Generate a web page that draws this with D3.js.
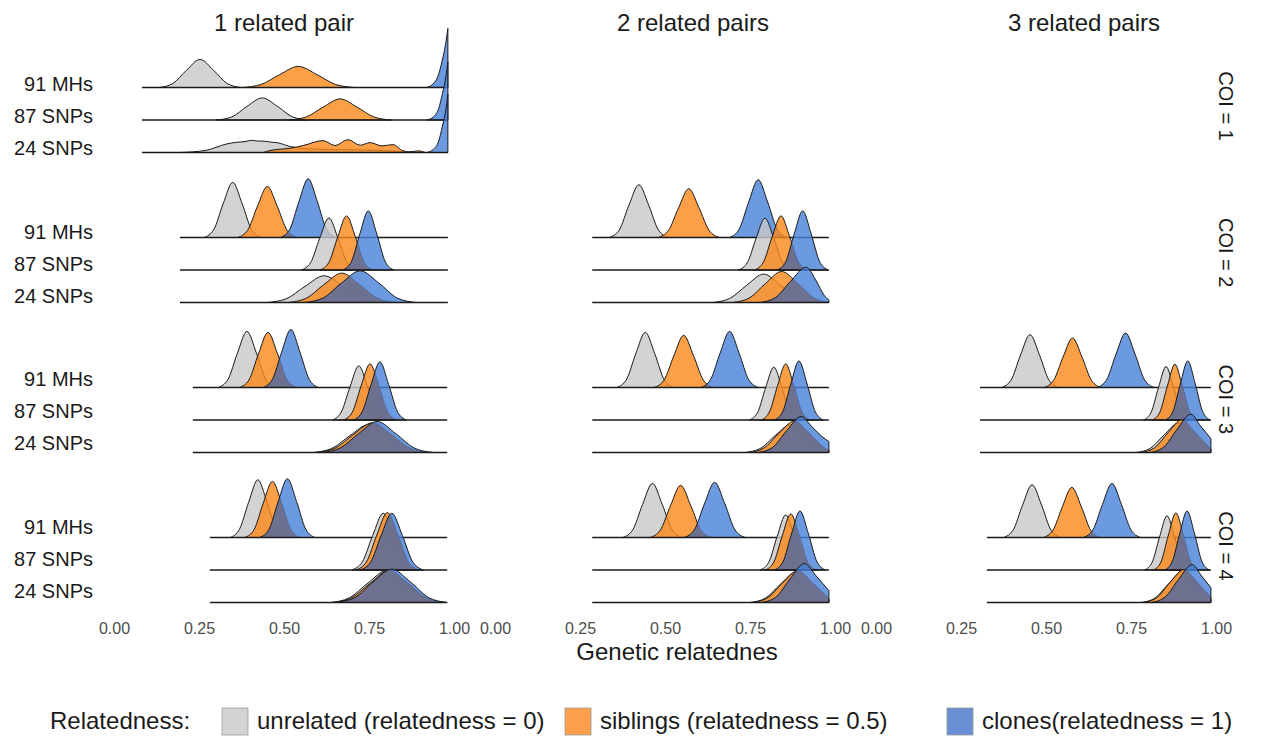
<!DOCTYPE html>
<html>
<head>
<meta charset="utf-8">
<script src="https://cdn.jsdelivr.net/npm/d3@7"></script>
<style>
  body { margin: 0; background: #fff; }
  svg { display: block; font-family: "Liberation Sans", Arial, Helvetica, sans-serif; }
</style>
</head>
<body>
<div id="chart"></div>
<script>
// facet levels and labels
const pairLevels = ["1 related pair", "2 related pairs", "3 related pairs"];
const coiLevels = ["COI = 1", "COI = 2", "COI = 3", "COI = 4"];
const markerLevels = ["91 MHs", "87 SNPs", "24 SNPs"];
const groupLevels = ["unrelated (relatedness = 0)", "siblings (relatedness = 0.5)", "clones(relatedness = 1)"];
const xTicks = [0, 0.25, 0.5, 0.75, 1];

// ridge outlines: [relatedness, height in ridge units]
// each panel = rows (91 MHs, 87 SNPs, 24 SNPs) x groups (unrelated, siblings, clones)
const coi1Pair1Range = [0.082, 0.982];
const coi1Pair1 = [
  [
    [[.133,0],[.173,.12],[.213,.52],[.253,.85],[.293,.52],[.333,.12],[.373,0]],
    [[.377,0],[.432,.09],[.487,.39],[.542,.64],[.597,.39],[.652,.09],[.707,0]],
    [[.918,0],[.938,.1],[.953,.35],[.965,.8],[.975,1.3],[.982,1.79]]
  ],
  [
    [[.301,0],[.346,.09],[.391,.41],[.436,.67],[.481,.41],[.526,.09],[.571,0]],
    [[.515,0],[.565,.09],[.615,.39],[.665,.64],[.715,.39],[.765,.09],[.815,0]],
    [[.92,0],[.94,.1],[.955,.35],[.966,.8],[.976,1.3],[.982,1.76]]
  ],
  [
    [[.194,0],[.268,.06],[.332,.26],[.36,.31],[.385,.33],[.405,.37],[.42,.35],[.444,.34],[.465,.31],[.479,.3],[.518,.18],[.562,.12],[.635,.09],[.724,.08],[.812,.05],[.87,0]],
    [[.44,0],[.459,.06],[.518,.13],[.556,.21],[.615,.36],[.65,.21],[.688,.39],[.724,.22],[.753,.3],[.788,.2],[.82,.24],[.85,.05],[.87,.02],[.895,.05],[.915,0]],
    [[.92,0],[.94,.1],[.955,.35],[.966,.8],[.976,1.3],[.982,1.76]]
  ]
];

const coi2Pair1Range = [0.194, 0.982];
const coi2Pair1 = [
  [
    [[.265,0],[.293,.23],[.321,1.02],[.349,1.67],[.377,1.02],[.405,.23],[.433,0]],
    [[.364,0],[.393,.22],[.422,.95],[.451,1.55],[.48,.95],[.509,.22],[.538,0]],
    [[.49,0],[.517,.25],[.544,1.09],[.571,1.78],[.598,1.09],[.625,.25],[.652,0]]
  ],
  [
    [[.551,0],[.578,.22],[.605,.96],[.632,1.58],[.659,.96],[.686,.22],[.713,0]],
    [[.606,0],[.632,.23],[.658,1.0],[.684,1.64],[.71,1.0],[.736,.23],[.762,0]],
    [[.673,0],[.698,.25],[.723,1.09],[.748,1.79],[.773,1.09],[.798,.25],[.823,0]]
  ],
  [
    [[.45,0],[.506,.11],[.562,.49],[.618,.81],[.674,.49],[.73,.11],[.786,0]],
    [[.511,0],[.564,.12],[.617,.54],[.67,.89],[.723,.54],[.776,.12],[.829,0]],
    [[.559,0],[.614,.13],[.669,.59],[.724,.96],[.779,.59],[.834,.13],[.889,0]]
  ]
];

const coi2Pair2Range = [0.286, 0.982];
const coi2Pair2 = [
  [
    [[.336,0],[.365,.22],[.394,.98],[.423,1.6],[.452,.98],[.481,.22],[.51,0]],
    [[.48,0],[.51,.21],[.54,.9],[.57,1.48],[.6,.9],[.63,.21],[.66,0]],
    [[.69,0],[.718,.25],[.746,1.07],[.774,1.75],[.802,1.07],[.83,.25],[.858,0]]
  ],
  [
    [[.716,0],[.742,.22],[.768,.96],[.794,1.57],[.82,.96],[.846,.22],[.872,0]],
    [[.763,0],[.789,.23],[.815,1.0],[.841,1.64],[.867,1.0],[.893,.23],[.919,0]],
    [[.83,0],[.855,.25],[.88,1.09],[.905,1.79],[.93,1.09],[.955,.25],[.98,0]]
  ],
  [
    [[.64,0],[.69,.12],[.74,.52],[.79,.86],[.84,.52],[.89,.12],[.94,0]],
    [[.699,0],[.747,.13],[.795,.57],[.843,.94],[.891,.57],[.939,.13],[.982,.01]],
    [[.78,0],[.825,.15],[.87,.65],[.915,1.07],[.945,.65],[.968,.22],[.982,.08]]
  ]
];

const coi3Pair1Range = [0.232, 0.98];
const coi3Pair1 = [
  [
    [[.307,0],[.335,.24],[.363,1.04],[.391,1.7],[.419,1.04],[.447,.24],[.475,0]],
    [[.369,0],[.397,.23],[.425,1.02],[.453,1.67],[.481,1.02],[.509,.23],[.537,0]],
    [[.439,0],[.466,.25],[.493,1.07],[.52,1.76],[.547,1.07],[.574,.25],[.601,0]]
  ],
  [
    [[.642,0],[.668,.23],[.694,1.0],[.72,1.64],[.746,1.0],[.772,.23],[.798,0]],
    [[.675,0],[.701,.24],[.727,1.04],[.753,1.7],[.779,1.04],[.805,.24],[.831,0]],
    [[.704,0],[.73,.25],[.756,1.07],[.782,1.76],[.808,1.07],[.834,.25],[.86,0]]
  ],
  [
    [[.585,0],[.64,.12],[.695,.52],[.75,.85],[.805,.52],[.86,.12],[.915,0]],
    [[.595,0],[.65,.13],[.705,.55],[.76,.9],[.815,.55],[.87,.13],[.925,0]],
    [[.609,0],[.664,.13],[.719,.57],[.774,.94],[.829,.57],[.884,.13],[.939,0]]
  ]
];

const coi3Pair2Range = [0.286, 0.982];
const coi3Pair2 = [
  [
    [[.358,0],[.386,.23],[.414,1.02],[.442,1.67],[.47,1.02],[.498,.23],[.526,0]],
    [[.468,0],[.497,.22],[.526,.96],[.555,1.58],[.584,.96],[.613,.22],[.642,0]],
    [[.606,0],[.634,.24],[.662,1.04],[.69,1.7],[.718,1.04],[.746,.24],[.774,0]]
  ],
  [
    [[.748,0],[.772,.22],[.796,.98],[.82,1.6],[.844,.98],[.868,.22],[.892,0]],
    [[.783,0],[.807,.24],[.831,1.04],[.855,1.7],[.879,1.04],[.903,.24],[.927,0]],
    [[.822,0],[.846,.25],[.87,1.09],[.894,1.79],[.918,1.09],[.942,.25],[.966,0]]
  ],
  [
    [[.735,0],[.78,.12],[.825,.52],[.87,.85],[.915,.52],[.96,.12],[.982,.03]],
    [[.745,0],[.79,.13],[.835,.58],[.88,.95],[.925,.58],[.97,.13],[.982,.07]],
    [[.774,0],[.816,.15],[.858,.66],[.9,1.09],[.935,.75],[.96,.5],[.982,.33]]
  ]
];

const coi3Pair3Range = [0.306, 0.985];
const coi3Pair3 = [
  [
    [[.369,0],[.397,.22],[.425,.98],[.453,1.6],[.481,.98],[.509,.22],[.537,0]],
    [[.494,0],[.522,.21],[.55,.92],[.578,1.5],[.606,.92],[.634,.21],[.662,0]],
    [[.65,0],[.678,.23],[.706,1.01],[.734,1.65],[.762,1.01],[.79,.23],[.818,0]]
  ],
  [
    [[.787,0],[.809,.23],[.831,.99],[.853,1.62],[.875,.99],[.897,.23],[.919,0]],
    [[.813,0],[.835,.24],[.857,1.03],[.879,1.69],[.901,1.03],[.923,.24],[.945,0]],
    [[.851,0],[.873,.25],[.895,1.09],[.917,1.79],[.939,1.09],[.961,.25],[.983,0]]
  ],
  [
    [[.764,0],[.806,.12],[.848,.54],[.89,.89],[.932,.54],[.974,.12],[.985,.07]],
    [[.779,0],[.819,.14],[.859,.6],[.899,.99],[.939,.6],[.985,.1]],
    [[.806,0],[.846,.16],[.886,.71],[.926,1.16],[.955,.8],[.985,.42]]
  ]
];

const coi4Pair1Range = [0.282, 0.98];
const coi4Pair1 = [
  [
    [[.342,0],[.369,.25],[.396,1.07],[.423,1.75],[.45,1.07],[.477,.25],[.504,0]],
    [[.385,0],[.412,.24],[.439,1.04],[.466,1.7],[.493,1.04],[.52,.24],[.547,0]],
    [[.429,0],[.456,.25],[.483,1.09],[.51,1.78],[.537,1.09],[.564,.25],[.591,0]]
  ],
  [
    [[.699,0],[.73,.24],[.761,1.05],[.792,1.72],[.823,1.05],[.854,.24],[.885,0]],
    [[.711,0],[.742,.24],[.773,1.06],[.804,1.74],[.835,1.06],[.866,.24],[.897,0]],
    [[.724,0],[.755,.24],[.786,1.05],[.817,1.72],[.848,1.05],[.879,.24],[.91,0]]
  ],
  [
    [[.637,0],[.692,.14],[.747,.59],[.802,.97],[.857,.59],[.912,.14],[.967,0]],
    [[.644,0],[.699,.14],[.754,.59],[.809,.97],[.864,.59],[.919,.14],[.974,0]],
    [[.652,0],[.707,.14],[.762,.62],[.817,1.01],[.872,.62],[.927,.14],[.98,0]]
  ]
];

const coi4Pair2Range = [0.286, 0.982];
const coi4Pair2 = [
  [
    [[.376,0],[.405,.23],[.434,1.0],[.463,1.64],[.492,1.0],[.521,.23],[.55,0]],
    [[.456,0],[.486,.22],[.516,.96],[.546,1.58],[.576,.96],[.606,.22],[.636,0]],
    [[.556,0],[.586,.23],[.616,1.02],[.646,1.67],[.676,1.02],[.706,.23],[.736,0]]
  ],
  [
    [[.78,0],[.805,.23],[.83,1.02],[.855,1.67],[.88,1.02],[.905,.23],[.93,0]],
    [[.795,0],[.82,.24],[.845,1.04],[.87,1.7],[.895,1.04],[.92,.24],[.945,0]],
    [[.822,0],[.847,.25],[.872,1.09],[.897,1.79],[.922,1.09],[.947,.25],[.972,0]]
  ],
  [
    [[.75,0],[.795,.13],[.84,.56],[.885,.92],[.93,.56],[.975,.13],[.982,.09]],
    [[.755,0],[.8,.13],[.845,.58],[.89,.96],[.935,.58],[.982,.12]],
    [[.784,0],[.826,.16],[.868,.72],[.91,1.18],[.945,.8],[.982,.36]]
  ]
];

const coi4Pair3Range = [0.326, 0.985];
const coi4Pair3 = [
  [
    [[.375,0],[.403,.22],[.431,.98],[.459,1.6],[.487,.98],[.515,.22],[.543,0]],
    [[.492,0],[.52,.21],[.548,.93],[.576,1.52],[.604,.93],[.632,.21],[.66,0]],
    [[.61,0],[.638,.23],[.666,1.0],[.694,1.64],[.722,1.0],[.75,.23],[.778,0]]
  ],
  [
    [[.79,0],[.812,.23],[.834,1.0],[.856,1.64],[.878,1.0],[.9,.23],[.922,0]],
    [[.816,0],[.838,.24],[.86,1.06],[.882,1.73],[.904,1.06],[.926,.24],[.948,0]],
    [[.849,0],[.871,.25],[.893,1.09],[.915,1.79],[.937,1.09],[.959,.25],[.981,0]]
  ],
  [
    [[.78,0],[.82,.13],[.86,.56],[.9,.92],[.94,.56],[.985,.1]],
    [[.785,0],[.825,.14],[.865,.61],[.905,1.0],[.945,.61],[.985,.14]],
    [[.81,0],[.85,.16],[.89,.7],[.93,1.15],[.958,.8],[.985,.45]]
  ]
];

const panels = [
  { coi: coiLevels[0], pair: pairLevels[0], range: coi1Pair1Range, ridges: coi1Pair1 },
  { coi: coiLevels[1], pair: pairLevels[0], range: coi2Pair1Range, ridges: coi2Pair1 },
  { coi: coiLevels[1], pair: pairLevels[1], range: coi2Pair2Range, ridges: coi2Pair2 },
  { coi: coiLevels[2], pair: pairLevels[0], range: coi3Pair1Range, ridges: coi3Pair1 },
  { coi: coiLevels[2], pair: pairLevels[1], range: coi3Pair2Range, ridges: coi3Pair2 },
  { coi: coiLevels[2], pair: pairLevels[2], range: coi3Pair3Range, ridges: coi3Pair3 },
  { coi: coiLevels[3], pair: pairLevels[0], range: coi4Pair1Range, ridges: coi4Pair1 },
  { coi: coiLevels[3], pair: pairLevels[1], range: coi4Pair2Range, ridges: coi4Pair2 },
  { coi: coiLevels[3], pair: pairLevels[2], range: coi4Pair3Range, ridges: coi4Pair3 }
];

const width = 1266;
const height = 738;
const fillColors = ["#c8c8c8", "#fb881a", "#4681d8"];
const legendColors = ["#d3d3d3", "#fda04b", "#6a8fd4"];
const overlapColor = "#6f6c87";
const ink = "#1a1a1a";

const svg = d3.select("#chart")
  .append("svg")
  .attr("width", width)
  .attr("height", height);

const colX = d3.scalePoint().domain(pairLevels).range([114, 876]);
const facetY = d3.scalePoint().domain(coiLevels).range([30, 480]);
const ridgeY = d3.scalePoint().domain(markerLevels).range([57.5, 122.5]);
const xUnit = d3.scaleLinear().domain([0, 1]).range([0, 340]);
const heightScale = d3.scaleLinear().domain([0, 1]).range([0, 33]);

// label grids (the row labels, strips and titles sit a little off the panel grid in the original)
const labelY = d3.scalePoint().domain(coiLevels).range([84, 527]);
const labelRowY = d3.scalePoint().domain(markerLevels).range([0, 64]);
const stripY = d3.scalePoint().domain(coiLevels).range([106, 546]);
const titleX = d3.scaleOrdinal().domain(pairLevels).range([284, 693, 1084]);

panels.forEach((p, pi) => {
  const g = svg.append('g')
    .attr('transform', `translate(${colX(p.pair)}, ${facetY(p.coi)})`);

  markerLevels.forEach((marker, mi) => {
    const base = ridgeY(marker);
    const area = d3.area()
      .x(d => xUnit(d[0]))
      .y0(base)
      .y1(d => base - heightScale(d[1]))
      .curve(d3.curveMonotoneX);

    const row = g.append('g');
    const curves = p.ridges[mi];
    const clipId = `sib-${pi}-${mi}`;

    row.append('clipPath')
      .attr('id', clipId)
      .append('path')
      .attr('d', area(curves[1]));

    curves.forEach((c, ci) => {
      row.append('path')
        .attr('d', area(c))
        .attr('fill', fillColors[ci])
        .attr('fill-opacity', 0.8);

      // clones over siblings turn slate in the original
      if (ci === 2) {
        row.append('path')
          .attr('d', area(c))
          .attr('clip-path', `url(#${clipId})`)
          .attr('fill', overlapColor)
          .attr('fill-opacity', 0.85);
      }

      row.append('path')
        .attr('d', area(c))
        .attr('fill', 'none')
        .attr('stroke', ink)
        .attr('stroke-width', 1)
        .attr('stroke-linejoin', 'round');
    });

    row.append('line')
      .attr('x1', xUnit(p.range[0]))
      .attr('x2', xUnit(p.range[1]))
      .attr('y1', base)
      .attr('y2', base)
      .attr('stroke', ink)
      .attr('stroke-width', 1.3);
  });
});

// row labels
coiLevels.forEach(coi => {
  svg.append('g')
    .selectAll('text')
    .data(markerLevels)
    .enter()
    .append('text')
    .attr('x', 93)
    .attr('y', d => labelY(coi) + labelRowY(d))
    .attr('dy', '0.35em')
    .attr('text-anchor', 'end')
    .style('font-size', '20px')
    .style('fill', ink)
    .text(d => d);
});

// facet strips on the right
svg.append('g')
  .selectAll('text')
  .data(coiLevels)
  .enter()
  .append('text')
  .attr('transform', d => `translate(1226, ${stripY(d)}) rotate(90)`)
  .attr('text-anchor', 'middle')
  .attr('dy', '0.35em')
  .style('font-size', '20px')
  .style('fill', ink)
  .text(d => d);

// column titles
svg.append('g')
  .selectAll('text')
  .data(pairLevels)
  .enter()
  .append('text')
  .attr('x', d => titleX(d))
  .attr('y', 31)
  .attr('text-anchor', 'middle')
  .style('font-size', '24px')
  .style('fill', ink)
  .text(d => d);

// x axes
pairLevels.forEach(p => {
  const axis = svg.append('g')
    .attr('transform', `translate(${colX(p)}, 620)`)
    .call(d3.axisBottom(xUnit)
      .tickValues(xTicks)
      .tickFormat(d3.format('.2f'))
      .tickSize(0)
      .tickPadding(3));
  axis.select('.domain').remove();
  axis.selectAll('text')
    .style('font-size', '16px')
    .style('font-family', '"Liberation Sans", Arial, Helvetica, sans-serif')
    .style('fill', '#4d4d4d');
});

svg.append('text')
  .attr('x', 677)
  .attr('y', 660)
  .attr('text-anchor', 'middle')
  .style('font-size', '24px')
  .style('fill', ink)
  .text('Genetic relatednes');

// legend
const legendKeyX = [222, 565, 947];
const legend = svg.append('g').attr('id', 'legend');

legend.append('text')
  .attr('x', 50)
  .attr('y', 721)
  .attr('dy', '0.35em')
  .style('font-size', '24px')
  .style('fill', ink)
  .text('Relatedness:');

legend.selectAll('rect')
  .data(groupLevels)
  .enter()
  .append('rect')
  .attr('x', (d, i) => legendKeyX[i])
  .attr('y', 708)
  .attr('width', 26)
  .attr('height', 27)
  .attr('fill', (d, i) => legendColors[i])
  .attr('stroke', '#9a9a9a')
  .attr('stroke-width', 0.8);

legend.selectAll('.key-label')
  .data(groupLevels)
  .enter()
  .append('text')
  .attr('class', 'key-label')
  .attr('x', (d, i) => legendKeyX[i] + 35)
  .attr('y', 721)
  .attr('dy', '0.35em')
  .style('font-size', '24px')
  .style('fill', ink)
  .text(d => d);
</script>
</body>
</html>
